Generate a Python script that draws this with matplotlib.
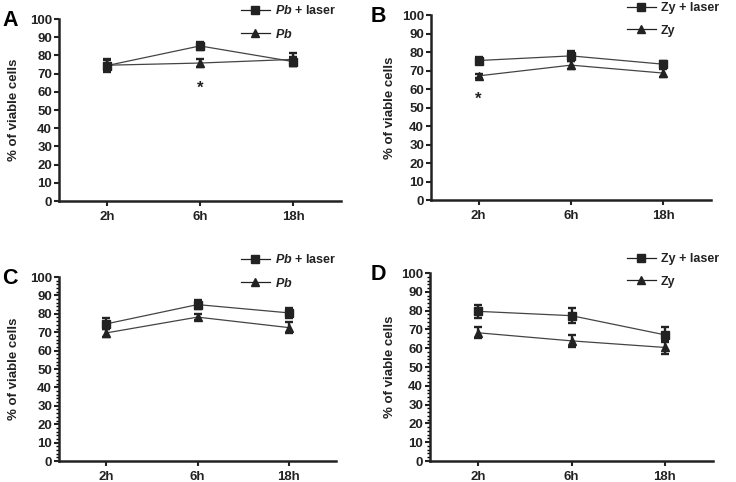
import numpy as np
import matplotlib
matplotlib.use('Agg')
import matplotlib.pyplot as plt
from matplotlib.lines import Line2D

# fonts: bold Arial-like everywhere, italic bold for species name
matplotlib.rcParams['font.family'] = 'Liberation Sans'
matplotlib.rcParams['font.weight'] = 'bold'
matplotlib.rcParams['mathtext.fontset'] = 'custom'
matplotlib.rcParams['mathtext.rm'] = 'Liberation Sans:bold'
matplotlib.rcParams['mathtext.it'] = 'Liberation Sans:bold:italic'
matplotlib.rcParams['mathtext.bf'] = 'Liberation Sans:bold'

times = ['2h', '6h', '18h']

# panel A : Pb, first experiment
a_laser = [74.4, 85.2, 76.6]
a_laser_err = [3.0, 2.2, 2.5]
a_ctrl = [74.6, 75.8, 77.8]
a_ctrl_err = [3.5, 2.4, 3.4]
a_star = (1, 62)          # (time index, y)

# panel B : Zy, first experiment
b_laser = [75.4, 77.9, 73.4]
b_laser_err = [2.0, 2.8, 1.5]
b_ctrl = [67.1, 72.9, 68.6]
b_ctrl_err = [1.0, 2.0, 2.0]
b_star = (0, 54.6)

# panel C : Pb, second experiment
c_laser = [74.5, 85.0, 80.5]
c_laser_err = [3.0, 2.6, 2.6]
c_ctrl = [69.6, 78.2, 72.5]
c_ctrl_err = [2.0, 1.5, 3.0]

# panel D : Zy, second experiment
d_laser = [79.6, 77.3, 67.1]
d_laser_err = [3.5, 4.0, 4.0]
d_ctrl = [68.2, 63.9, 60.4]
d_ctrl_err = [3.0, 3.0, 3.5]

W, H = 736, 482
fig = plt.figure(figsize=(W / 100, H / 100), dpi=100)

# pixel boxes (left, right, top, bottom) of each axes, ylabel right edge, legend corner
panels = [
    ('A', (59, 341, 19, 201), a_laser, a_laser_err, a_ctrl, a_ctrl_err,
     r'$\mathit{Pb}$ + laser', r'$\mathit{Pb}$', a_star, False, 20, (241, 4)),
    ('B', (431, 711, 15, 200), b_laser, b_laser_err, b_ctrl, b_ctrl_err,
     'Zy + laser', 'Zy', b_star, False, 396, (627, 2)),
    ('C', (59, 336, 277, 461), c_laser, c_laser_err, c_ctrl, c_ctrl_err,
     r'$\mathit{Pb}$ + laser', r'$\mathit{Pb}$', None, True, 20, (241, 253)),
    ('D', (430, 713, 273, 461), d_laser, d_laser_err, d_ctrl, d_ctrl_err,
     'Zy + laser', 'Zy', None, True, 396, (627, 253)),
]

col = '#222222'
fs = 9.5
x = np.arange(1, len(times) + 1)

for letter, box, yl, yle, yc, yce, lab_l, lab_c, star, minor, ylab_x, legpos in panels:
    l, r, t, b = box
    ax = fig.add_axes([l / W, 1 - b / H, (r - l) / W, (b - t) / H])
    ax.plot(x, yl, color='#444444', lw=0.9)
    ax.plot(x, yc, color='#444444', lw=0.9)
    ax.errorbar(x, yl, yerr=yle, color=col, ls='none', marker='s', ms=5.5,
                elinewidth=1.7, capsize=3.2, capthick=1.7)
    ax.errorbar(x, yc, yerr=yce, color=col, ls='none', marker='^', ms=6,
                elinewidth=1.7, capsize=3.2, capthick=1.7)
    if star is not None:
        ax.text(x[star[0]], star[1], '*', ha='center', va='center', fontsize=12, color=col)
    ax.set_xlim(0.485, 3.515)
    ax.set_ylim(0, 100)
    ax.set_yticks(np.arange(0, 101, 10))
    if minor:
        ax.set_yticks(np.arange(0, 101, 2), minor=True)
        ax.tick_params(axis='y', which='minor', length=2.5, width=1)
    ax.set_xticks(x)
    ax.set_xticklabels(times)
    ax.tick_params(axis='both', which='major', labelsize=fs, length=3.5, width=1.5,
                   pad=1.5, colors=col)
    ax.tick_params(axis='x', pad=4)
    for lbl in ax.get_xticklabels() + ax.get_yticklabels():
        lbl.set_fontweight('bold')
    for s in ['top', 'right']:
        ax.spines[s].set_visible(False)
    for s in ['left', 'bottom']:
        ax.spines[s].set_linewidth(1.8)
        ax.spines[s].set_color(col)
    ax.set_ylabel('% of viable cells', fontsize=9.5, color=col, fontweight='bold')
    ax.yaxis.set_label_coords((ylab_x - l) / (r - l), 0.5)
    fig.text((2 if l < 200 else 371) / W, 1 - (t + 1) / H, letter, fontsize=15.5,
             fontweight='bold', ha='left', va='center', color='black')
    handles = [Line2D([], [], color=col, lw=0.9, marker='s', ms=5.5),
               Line2D([], [], color=col, lw=0.9, marker='^', ms=6)]
    leg = ax.legend(handles, [lab_l, lab_c], loc='upper left',
                    bbox_to_anchor=(legpos[0] / W, 1 - legpos[1] / H),
                    bbox_transform=fig.transFigure, frameon=False, fontsize=9,
                    handlelength=2.3, handletextpad=0.4, labelspacing=0.85,
                    borderpad=0, borderaxespad=0)
    for txt in leg.get_texts():
        txt.set_color(col)

fig.savefig('out.png', dpi=100)
